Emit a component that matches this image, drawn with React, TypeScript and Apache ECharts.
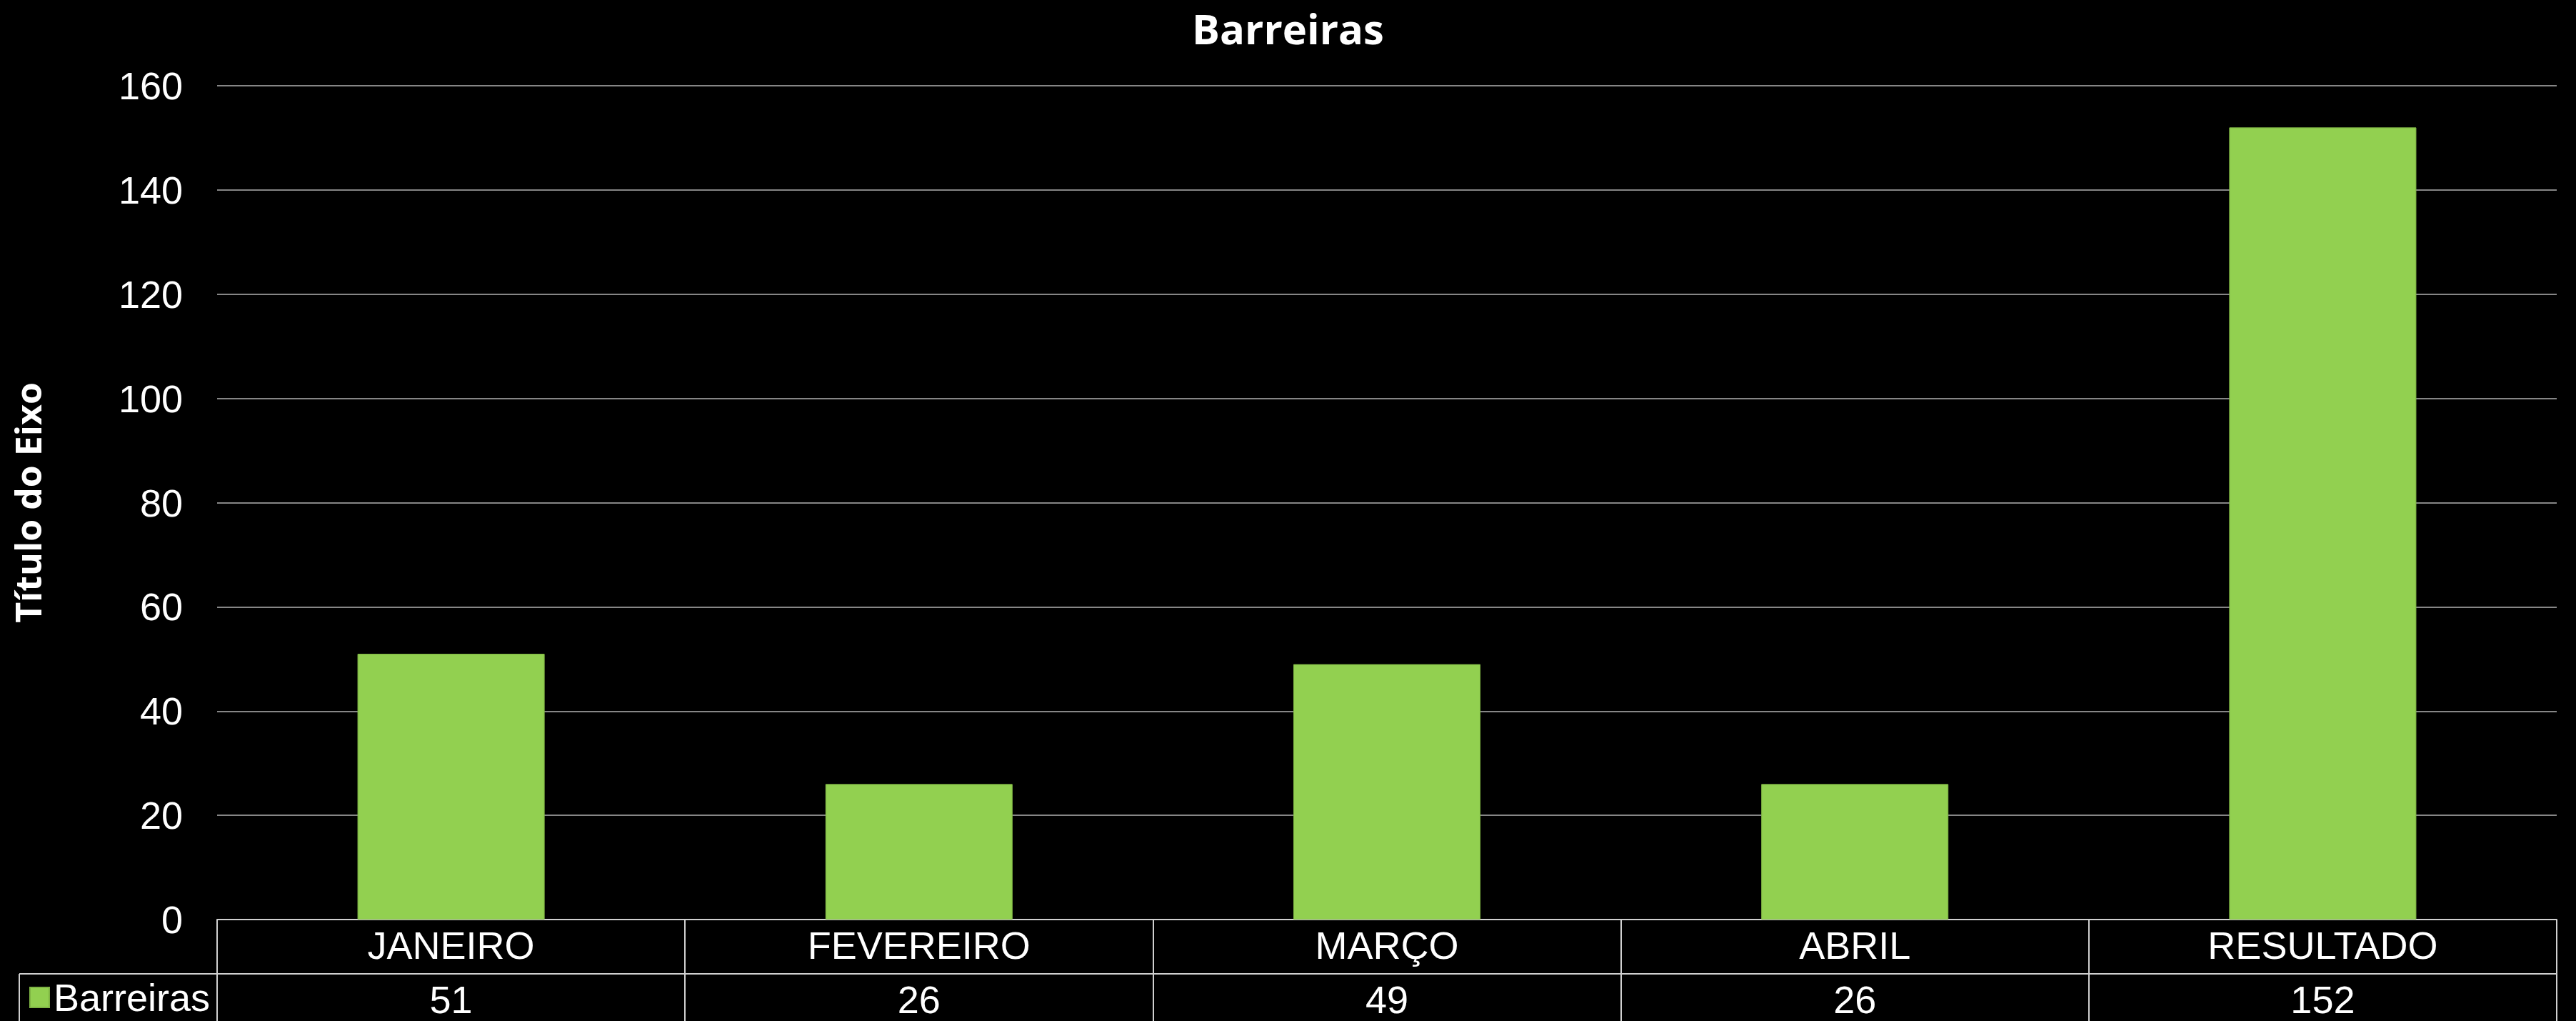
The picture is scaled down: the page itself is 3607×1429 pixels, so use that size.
import React, { useEffect, useRef } from "react";
import * as echarts from "echarts";

const chartTitle = "Barreiras";
const yAxisTitle = "Título do Eixo";
const seriesName = "Barreiras";
const categories = ["JANEIRO", "FEVEREIRO", "MARÇO", "ABRIL", "RESULTADO"];
const values = [51, 26, 49, 26, 152];
const yMin = 0;
const yMax = 160;
const yInterval = 20;

export default function App() {
  const ref = useRef<HTMLDivElement>(null);
  useEffect(() => {
    document.body.style.margin = "0";
    document.body.style.background = "#000";
    const chart = echarts.init(ref.current as HTMLDivElement, null, { renderer: "svg" });
    const W = 3607;
    const H = 1429;
    const gLeft = 304;
    const gRight = 3580;
    const gTop = 120;
    const gBottom = 1287;
    const rowLine = 1363;
    const tableLeft = 27;
    const tableColor = "#D0D0D0";
    const gridColor = "#B3B3B3";
    const numFont = "'Liberation Sans', Arial, sans-serif";
    const fs = 54;
    const option = {
      animation: false,
      backgroundColor: "#000000",
      title: {
        text: chartTitle,
        left: "center",
        top: 4,
        padding: [4, 5, 4, 5],
        textStyle: {
          color: "#FFFFFF",
          fontFamily: "'Open Sans', sans-serif",
          fontWeight: "bold",
          fontSize: 58,
          lineHeight: 62,
        },
      },
      legend: {
        data: [seriesName],
        left: 41,
        top: 1369,
        padding: 0,
        icon: "rect",
        itemWidth: 27,
        itemHeight: 28,
        itemGap: 10,
        textStyle: { color: "#FFFFFF", fontSize: fs, fontFamily: numFont, padding: [0, 0, 0, 1] },
      },
      grid: {
        left: gLeft,
        right: W - gRight,
        top: gTop,
        bottom: H - gBottom,
        containLabel: false,
      },
      xAxis: [
        {
          type: "category",
          data: categories,
          position: "bottom",
          axisLine: { show: true, lineStyle: { color: tableColor, width: 2 } },
          axisTick: {
            show: true,
            interval: 0,
            length: H - gBottom,
            lineStyle: { color: tableColor, width: 2 },
          },
          axisLabel: {
            interval: 0,
            color: "#FFFFFF",
            fontSize: fs,
            fontFamily: numFont,
            margin: 9,
          },
        },
        {
          type: "category",
          data: values.map((v) => String(v)),
          position: "bottom",
          offset: rowLine - gBottom,
          axisLine: { show: false },
          axisTick: { show: false },
          axisLabel: {
            interval: 0,
            color: "#FFFFFF",
            fontSize: fs,
            fontFamily: numFont,
            margin: 9,
          },
        },
      ],
      yAxis: {
        type: "value",
        min: yMin,
        max: yMax,
        interval: yInterval,
        name: yAxisTitle,
        nameLocation: "middle",
        nameRotate: 90,
        nameGap: 240,
        nameTextStyle: {
          color: "#FFFFFF",
          fontFamily: "'Open Sans', sans-serif",
          fontWeight: "bold",
          fontSize: 50,
        },
        axisLine: { show: false },
        axisTick: { show: false },
        axisLabel: { color: "#FFFFFF", fontSize: fs, fontFamily: numFont, margin: 48 },
        splitLine: { show: true, lineStyle: { color: gridColor, width: 1.5 } },
      },
      graphic: [
        {
          type: "line",
          shape: { x1: tableLeft, y1: rowLine, x2: gRight, y2: rowLine },
          style: { stroke: tableColor, lineWidth: 2 },
          silent: true,
        },
        {
          type: "line",
          shape: { x1: tableLeft, y1: rowLine, x2: tableLeft, y2: H },
          style: { stroke: tableColor, lineWidth: 2 },
          silent: true,
        },
      ],
      series: [
        {
          name: seriesName,
          type: "bar",
          data: values,
          xAxisIndex: 0,
          barWidth: "40%",
          itemStyle: { color: "#92D050", borderColor: "#7FB444", borderWidth: 1 },
        },
      ],
    };
    chart.setOption(option);
    return () => chart.dispose();
  }, []);
  return (
    <div
      ref={ref}
      style={{ position: "absolute", left: 0, top: 0, width: 3607, height: 1429 }}
    />
  );
}
